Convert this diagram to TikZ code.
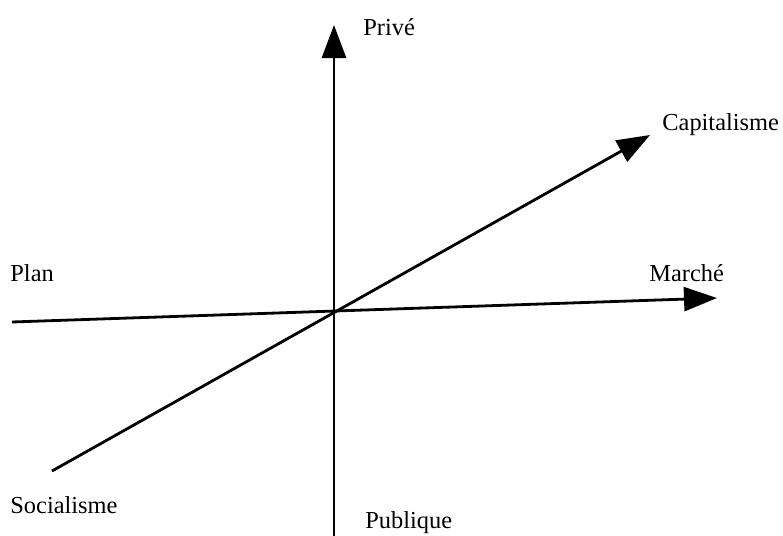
\documentclass[tikz,border=0pt]{standalone}
\usepackage{fontspec}
\setmainfont{Liberation Serif}
\usetikzlibrary{arrows.meta,positioning}
\begin{document}
\begin{tikzpicture}[x=0.5pt,y=-0.5pt,
  axis/.style={line width=1.4pt,-{Triangle[length=16.5pt,width=12pt]}},
  lbl/.style={anchor=base west,inner sep=0pt,font=\fontsize{12.2}{14}\selectfont}]
\useasboundingbox (0,0) rectangle (783,536);
% axes
\coordinate (bas) at (334,536);
\coordinate (haut) at (334,25);
\coordinate (gauche) at (12,322);
\coordinate (droite) at (717,298);
\coordinate (sud) at (52,471);
\coordinate (nord) at (650,135);
% labels
\node[lbl] (prive) at (363,35) {Privé};
\node[lbl] (publique) at (365,528) {Publique};
\node[lbl] (plan) at (10,281) {Plan};
\node[lbl] (marche) at (649,281) {Marché};
\node[lbl] (capitalisme) at (662,130) {Capitalisme};
\node[lbl] (socialisme) at (10,513) {Socialisme};
\draw[axis] (bas) -- (haut);
\draw[axis] (gauche) -- (droite);
\draw[axis] (sud) -- (nord);
\end{tikzpicture}
\end{document}
